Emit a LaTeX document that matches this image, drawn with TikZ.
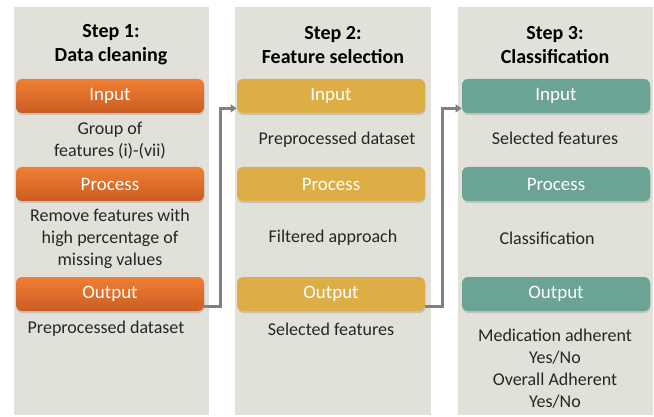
\documentclass[tikz,border=0pt]{standalone}
\usepackage{fontspec}
\setmainfont{Carlito}
\usetikzlibrary{calc}
\usetikzlibrary{shadows}
\usetikzlibrary{arrows.meta}
\definecolor{panelgray}{HTML}{E1E1DA}
\definecolor{orangetop}{HTML}{F07E34}
\definecolor{orangebot}{HTML}{CA5E22}
\definecolor{goldbox}{HTML}{DDAE46}
\definecolor{tealbox}{HTML}{6BA394}
\definecolor{arrowgray}{HTML}{808080}
\tikzset{
every picture/.style={line width=0.8pt, x=1pt, y=-1pt},
%%%%%%%%%%  Panel and box styles
step_panel/.style={fill=panelgray},
stage_box/.style={rounded corners=6pt, minimum width=188pt, minimum height=34pt,
                  inner sep=0pt, text=white, font=\fontsize{19}{22}\selectfont,
                  drop shadow={opacity=0.3, shadow xshift=0.5pt, shadow yshift=-2pt}},
orange_box/.style={stage_box, top color=orangetop, bottom color=orangebot},
gold_box/.style={stage_box, fill=goldbox},
teal_box/.style={stage_box, fill=tealbox},
%%%%%%%%%%  Text styles
step_title/.style={align=center, font=\bfseries\fontsize{20}{24}\selectfont},
step_text/.style={align=center, text=black!85, font=\fontsize{18}{22}\selectfont},
%%%%%%%%%%  Connectors
flow/.style={draw=arrowgray, line width=2.5pt, -{Triangle[length=6pt,width=8pt]}}
}
\begin{document}
\begin{tikzpicture}
\useasboundingbox (0,0) rectangle (654,417);
%%%%%%%%%%%%%%%%%%%%%%%%%%%%%%%%%%%%%%%%%%%%%%
%% step 1: data cleaning
\begin{scope}[shift={(14,0)}]
\fill[step_panel] (0,7) rectangle (195,415);
\node[step_title] (title1) at (97,45) {Step 1:\\Data cleaning};
\node[orange_box] (in1) at (96,96) {Input};
\node[step_text] (intext1) at (96,141) {Group of\\features (i)-(vii)};
\node[orange_box] (proc1) at (96,184) {Process};
\node[step_text] (proctext1) at (96,239) {Remove features with\\high percentage of\\missing values};
\node[orange_box] (out1) at (96,294) {Output};
\node[step_text] (outtext1) at (92,329) {Preprocessed dataset};
\end{scope}
%%%%%%%%%%%%%%%%%%%%%%%%%%%%%%%%%%%%%%%%%%%%%%
%% step 2: feature selection
\begin{scope}[shift={(235,0)}]
\fill[step_panel] (0,7) rectangle (196,415);
\node[step_title] (title2) at (98,45) {Step 2:\\Feature selection};
\node[gold_box] (in2) at (96,96) {Input};
\node[step_text] (intext2) at (102,140) {Preprocessed dataset};
\node[gold_box] (proc2) at (96,184) {Process};
\node[step_text] (proctext2) at (98,238) {Filtered approach};
\node[gold_box] (out2) at (96,294) {Output};
\node[step_text] (outtext2) at (96,329) {Selected features};
\end{scope}
%%%%%%%%%%%%%%%%%%%%%%%%%%%%%%%%%%%%%%%%%%%%%%
%% step 3: classification
\begin{scope}[shift={(458,0)}]
\fill[step_panel] (0,7) rectangle (195,415);
\node[step_title] (title3) at (97,45) {Step 3:\\Classification};
\node[teal_box] (in3) at (98,96) {Input};
\node[step_text] (intext3) at (97,138) {Selected features};
\node[teal_box] (proc3) at (98,184) {Process};
\node[step_text] (proctext3) at (89,238) {Classification};
\node[teal_box] (out3) at (98,294) {Output};
\node[step_text] (outtext3) at (97,369) {Medication adherent\\Yes/No\\Overall Adherent\\Yes/No};
\end{scope}
%%%%%%%%%%%%%%%%%%%%%%%%%%%%%%%%%%%%%%%%%%%%%%
%% connectors between steps
\draw[flow] ([yshift=5pt]out1.south east) -- ++(16,0) |- ([yshift=5pt]in2.south west);
\draw[flow] ([yshift=5pt]out2.south east) -- ++(17,0) |- ([yshift=5pt]in3.south west);
\end{tikzpicture}
\end{document}
